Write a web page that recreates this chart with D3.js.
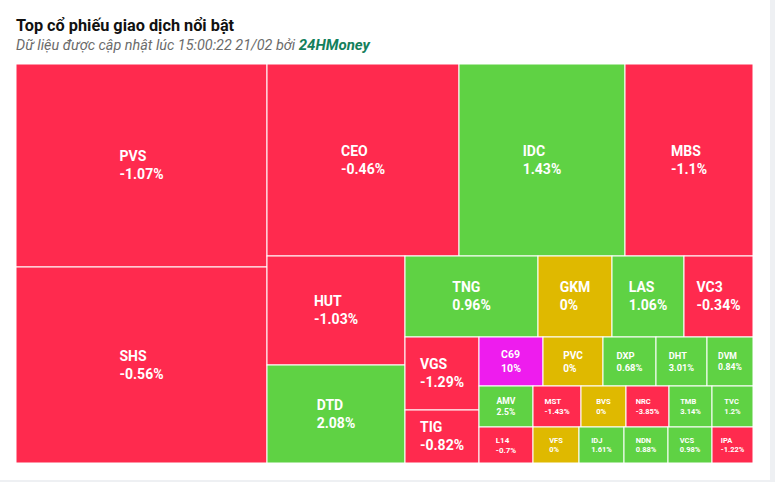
<!DOCTYPE html>
<html>
<head>
<meta charset="utf-8">
<script src="https://cdn.jsdelivr.net/npm/d3@7"></script>
<style>
  html, body { margin: 0; padding: 0; background: #eef0f3; }
  svg { display: block; }
</style>
</head>
<body>
<svg id="chart" width="775" height="482"></svg>
<script>
// ---- data ----
const tickers = ["PVS","SHS","CEO","IDC","MBS","HUT","DTD","TNG","GKM","LAS","VC3","VGS","TIG",
  "C69","PVC","DXP","DHT","DVM","AMV","MST","BVS","NRC","TMB","TVC","L14","VFS","IDJ","NDN","VCS","IPA"];
const changes = [-1.07,-0.56,-0.46,1.43,-1.1,-1.03,2.08,0.96,0,1.06,-0.34,-1.29,-0.82,
  10,0,0.68,3.01,0.84,2.5,-1.43,0,-3.85,3.14,1.2,-0.7,0,1.61,0.88,0.98,-1.22];
// estimated traded volume (relative)
const volumes = [50953,49196,36864,31872,24576,15042,13524,10773,5994,5832,5589,5402,3922,
  3136,2940,2597,2499,2254,2214,1968,1845,1763,1763,1681,1944,1656,1620,1584,1584,1476];
// layout band of each stock (row/column strip of the treemap)
const groups = [0,0,1,1,1,2,2,3,3,3,3,4,4,5,5,5,5,5,6,6,6,6,6,6,7,7,7,7,7,7];
const ceilingPct = 10;

const title = "Top cổ phiếu giao dịch nổi bật";
const subtitle = "Dữ liệu được cập nhật lúc 15:00:22 21/02 bởi ";
const brand = "24HMoney";

// ---- build hierarchy ----
const items = tickers.map((t, i) => ({ name: t, change: changes[i], value: volumes[i], group: groups[i] }));
const strip = g => ({ name: "g" + g, children: items.filter(d => d.group === g) });
function build(g) {
  if (g === 5) return { name: "rest", children: [strip(5), strip(6), strip(7)] };
  return { name: "n" + g, children: [strip(g), build(g + 1)] };
}
const root = d3.hierarchy(build(0)).sum(d => d.children ? 0 : d.value);

const X0 = 16, Y0 = 64, W = 737, H = 399;
d3.treemap().tile(d3.treemapSliceDice).size([W, H]).round(false)(root);

const svg = d3.select("#chart");
// card background
svg.append("rect").attr("x", 0).attr("y", 0).attr("width", 770).attr("height", 480).attr("fill", "#fff");

svg.append("text").attr("x", 16).attr("y", 31)
  .attr("font-family", "Roboto, sans-serif").attr("font-weight", 700).attr("font-size", 16.3)
  .attr("fill", "#111").text(title);
const sub = svg.append("text").attr("x", 16).attr("y", 50)
  .attr("font-family", "Roboto, sans-serif").attr("font-style", "italic").attr("font-size", 14.4)
  .attr("fill", "#6b6b6b");
sub.append("tspan").text(subtitle);
sub.append("tspan").attr("font-weight", 700).attr("fill", "#13805c").attr("font-size", 15).text(brand);

const color = c => c >= ceilingPct ? "#ee1cee" : c > 0 ? "#5fd244" : c < 0 ? "#ff2a4e" : "#dfb900";
const fontScale = d3.scaleLinear().domain([42, 56, 62]).range([7.5, 10.5, 14]).clamp(true);

const g = svg.append("g").attr("transform", `translate(${X0},${Y0})`);
const leaves = root.leaves();
const cell = g.selectAll("g.cell").data(leaves).join("g").attr("class", "cell");
cell.append("rect")
  .attr("x", d => d.x0).attr("y", d => d.y0)
  .attr("width", d => d.x1 - d.x0).attr("height", d => d.y1 - d.y0)
  .attr("fill", d => color(d.data.change))
  .attr("stroke", "#fff").attr("stroke-width", 1);

cell.each(function(d) {
  const w = d.x1 - d.x0, h = d.y1 - d.y0;
  const fs = fontScale(Math.sqrt(w * h));
  const gap = fs * 1.28;
  const cx = (d.x0 + d.x1) / 2, cy = (d.y0 + d.y1) / 2;
  const sel = d3.select(this);
  const lines = [d.data.name, d.data.change + "%"];
  const texts = lines.map((s, i) => sel.append("text")
    .attr("font-family", "Roboto, sans-serif").attr("font-weight", 700)
    .attr("font-size", fs).attr("fill", "#fff")
    .attr("y", cy - gap / 2 + 0.35 * fs + i * gap).text(s));
  const maxW = d3.max(texts, t => t.node().getComputedTextLength());
  texts.forEach(t => t.attr("x", cx - maxW / 2));
});
</script>
</body>
</html>
